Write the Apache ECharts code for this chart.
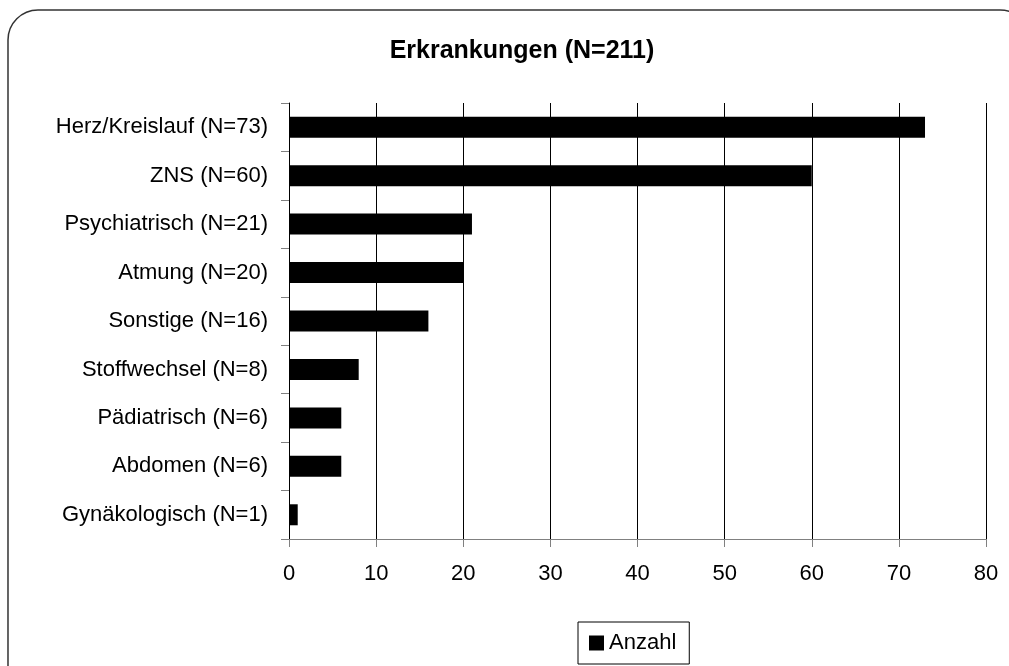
<!DOCTYPE html>
<html><head><meta charset="utf-8">
<script src="https://cdn.jsdelivr.net/npm/echarts@6/dist/echarts.min.js"></script>
<style>html,body{margin:0;padding:0;background:#fff}#c{width:1009px;height:666px}</style>
</head><body><div id="c"></div>
<script>
const title = 'Erkrankungen (N=211)';
const categories = ['Herz/Kreislauf (N=73)','ZNS (N=60)','Psychiatrisch (N=21)','Atmung (N=20)','Sonstige (N=16)','Stoffwechsel (N=8)','Pädiatrisch (N=6)','Abdomen (N=6)','Gynäkologisch (N=1)'];
const anzahl = [73,60,21,20,16,8,6,6,1];
const seriesName = 'Anzahl';
const xMin = 0, xMax = 80, xStep = 10;

const chart = echarts.init(document.getElementById('c'), null, {renderer:'canvas'});
const font = 'Liberation Sans, Arial, sans-serif';
chart.setOption({
  animation:false,
  backgroundColor:'#fff',
  title:{text:title,left:517,textAlign:'center',top:34,textStyle:{fontFamily:font,fontSize:25,fontWeight:'bold',color:'#000'}},
  graphic:[{type:'rect',shape:{x:8,y:10,width:1022,height:690,r:30},style:{fill:'none',stroke:'#333',lineWidth:1.5},silent:true}],
  legend:{bottom:2,left:578,data:[seriesName],itemWidth:15,itemHeight:15,itemGap:4,padding:[10,13,10,11],
    borderColor:'#000',borderWidth:1,icon:'rect',
    textStyle:{fontFamily:font,fontSize:22,color:'#000'}},
  grid:{left:289,right:23,top:103,bottom:127,containLabel:false},
  xAxis:{type:'value',min:xMin,max:xMax,interval:xStep,
    axisLine:{show:true,lineStyle:{color:'#808080',width:1}},
    axisTick:{show:true,length:8,lineStyle:{color:'#808080'}},
    axisLabel:{fontFamily:font,fontSize:22,color:'#000',margin:24},
    splitLine:{show:true,lineStyle:{color:'#000',width:1}}},
  yAxis:{type:'category',data:categories,inverse:true,
    axisLine:{show:true,lineStyle:{color:'#000',width:1}},
    axisTick:{show:true,length:8,lineStyle:{color:'#808080'}},
    axisLabel:{fontFamily:font,fontSize:22,color:'#000',margin:21}},
  series:[{name:seriesName,type:'bar',data:anzahl,barWidth:21,itemStyle:{color:'#000'}}]
});
</script></body></html>
